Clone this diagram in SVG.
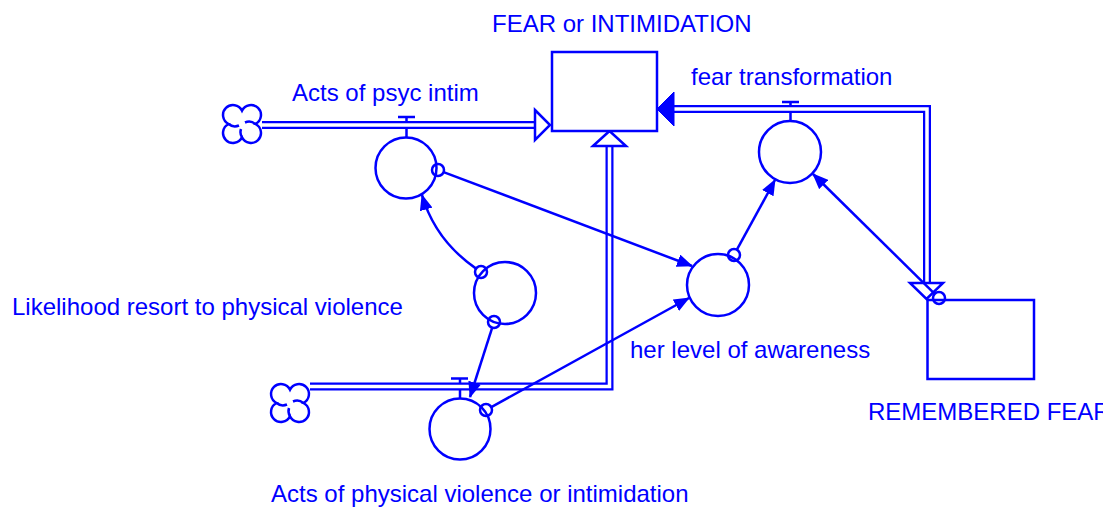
<svg xmlns="http://www.w3.org/2000/svg" xmlns:xlink="http://www.w3.org/1999/xlink" width="1103" height="508" viewBox="0 0 1103 508">
  <style>
    .lbl { font-family: "Liberation Sans", Arial, sans-serif; font-size: 24px; fill: #0000ff; }
    .stock { fill: #ffffff; stroke: #0000ff; stroke-width: 2.5; }
    .aux { fill: #ffffff; stroke: #0000ff; stroke-width: 2.5; }
    .valve { fill: none; stroke: #0000ff; stroke-width: 2.5; }
    .pipe-out { fill: none; stroke: #0000ff; stroke-width: 8; stroke-linejoin: miter; }
    .pipe-in { fill: none; stroke: #ffffff; stroke-width: 3.5; stroke-linejoin: miter; }
    .head-open { fill: #ffffff; stroke: #0000ff; stroke-width: 2.5; stroke-linejoin: miter; }
    .head-solid { fill: #0000ff; stroke: #0000ff; stroke-width: 1; }
    .link { fill: none; stroke: #0000ff; stroke-width: 2.5; }
    .tail { fill: none; stroke: #0000ff; stroke-width: 2.5; }
  </style>
  <defs>
    <marker id="arrow" markerUnits="userSpaceOnUse" viewBox="0 0 16 13" markerWidth="16" markerHeight="13" refX="15" refY="6.5" orient="auto">
      <path d="M0,0 L16,6.5 L0,13 z" fill="#0000ff"/>
    </marker>
    <!-- source/sink cloud: four lobes with pinwheel curls -->
    <g id="cloud" fill="#ffffff" stroke="#0000ff" stroke-width="2.5">
      <path d="M0,-13.4 A10,10 0 1 1 13.4,0 A10,10 0 1 1 0,13.4 A10,10 0 1 1 -13.4,0 A10,10 0 1 1 0,-13.4 z"/>
      <path fill="none" d="M-13.4,0 A10,10 0 0 0 -3,1.5 M13.4,0 A10,10 0 0 0 3,-1.5 M0,13.4 A10,10 0 0 1 -1,5"/>
    </g>
  </defs>

  <!-- flows (pipes, valves, clouds) -->
  <g id="flows">
    <!-- valve stems sit under the pipes -->
    <path class="valve" d="M398,117 H415 M406.5,117 V138"/>
    <path class="valve" d="M451,378.5 H468 M460,378.5 V398"/>
    <path class="valve" d="M782,102 H799 M790.5,102 V121"/>

    <use xlink:href="#cloud" x="242" y="124"/>
    <use xlink:href="#cloud" x="290" y="403"/>

    <!-- Acts of psyc intim -->
    <path class="pipe-out" d="M262,125 H537"/>
    <path class="pipe-in" d="M262,125 H537"/>
    <polygon class="head-open" points="535,110 550,125 535,140"/>

    <!-- Acts of physical violence or intimidation -->
    <path class="pipe-out" d="M310,386.5 H609.5 V144"/>
    <path class="pipe-in" d="M310,386.5 H609.5 V144"/>
    <polygon class="head-open" points="593,146 609.5,131 626,146"/>

    <!-- fear transformation -->
    <path class="pipe-out" d="M927,285 V109 H672"/>
    <path class="pipe-in" d="M927,285 V109 H672"/>
    <polygon class="head-solid" points="657,109 674,92 674,126"/>
    <polygon class="head-open" points="910,283 943,283 926.5,299"/>
  </g>

  <!-- stocks -->
  <g id="fear-or-intimidation">
    <rect class="stock" x="552" y="52" width="105" height="79"/>
    <text class="lbl" x="492" y="32">FEAR or INTIMIDATION</text>
  </g>
  <g id="remembered-fear">
    <rect class="stock" x="927.5" y="300" width="106.5" height="79"/>
    <text class="lbl" x="868" y="420">REMEMBERED FEAR</text>
  </g>

  <!-- rate and auxiliary nodes -->
  <g id="acts-of-psyc-intim">
    <circle class="aux" cx="406" cy="168" r="30.5"/>
    <text class="lbl" x="292" y="101">Acts of psyc intim</text>
  </g>
  <g id="acts-of-physical-violence">
    <circle class="aux" cx="460" cy="429" r="30.5"/>
    <text class="lbl" x="271" y="502">Acts of physical violence or intimidation</text>
  </g>
  <g id="fear-transformation">
    <circle class="aux" cx="790" cy="152" r="31"/>
    <text class="lbl" x="691" y="85">fear transformation</text>
  </g>
  <g id="likelihood-resort">
    <circle class="aux" cx="505" cy="293" r="31"/>
    <text class="lbl" x="12" y="315">Likelihood resort to physical violence</text>
  </g>
  <g id="her-level-of-awareness">
    <circle class="aux" cx="718" cy="285" r="31"/>
    <text class="lbl" x="630" y="358">her level of awareness</text>
  </g>

  <!-- causal links -->
  <g id="connectors">
    <path class="link" marker-end="url(#arrow)" d="M443.6,172.1 L692,266"/>
    <circle class="tail" cx="438" cy="170" r="6"/>

    <path class="link" marker-end="url(#arrow)" d="M491.3,407.1 L689,298"/>
    <circle class="tail" cx="486" cy="410" r="6"/>

    <path class="link" marker-end="url(#arrow)" d="M736.9,249.7 L775,180"/>
    <circle class="tail" cx="734" cy="255" r="6"/>

    <path class="link" marker-end="url(#arrow)" d="M934.7,293.8 L813,174"/>
    <circle class="tail" cx="939" cy="298" r="6"/>

    <path class="link" marker-end="url(#arrow)" d="M492.2,327.7 L470,397"/>
    <circle class="tail" cx="494" cy="322" r="6"/>

    <path class="link" marker-end="url(#arrow)" d="M476.1,268.6 Q435,240 422,195"/>
    <circle class="tail" cx="481" cy="272" r="6"/>
  </g>
</svg>
